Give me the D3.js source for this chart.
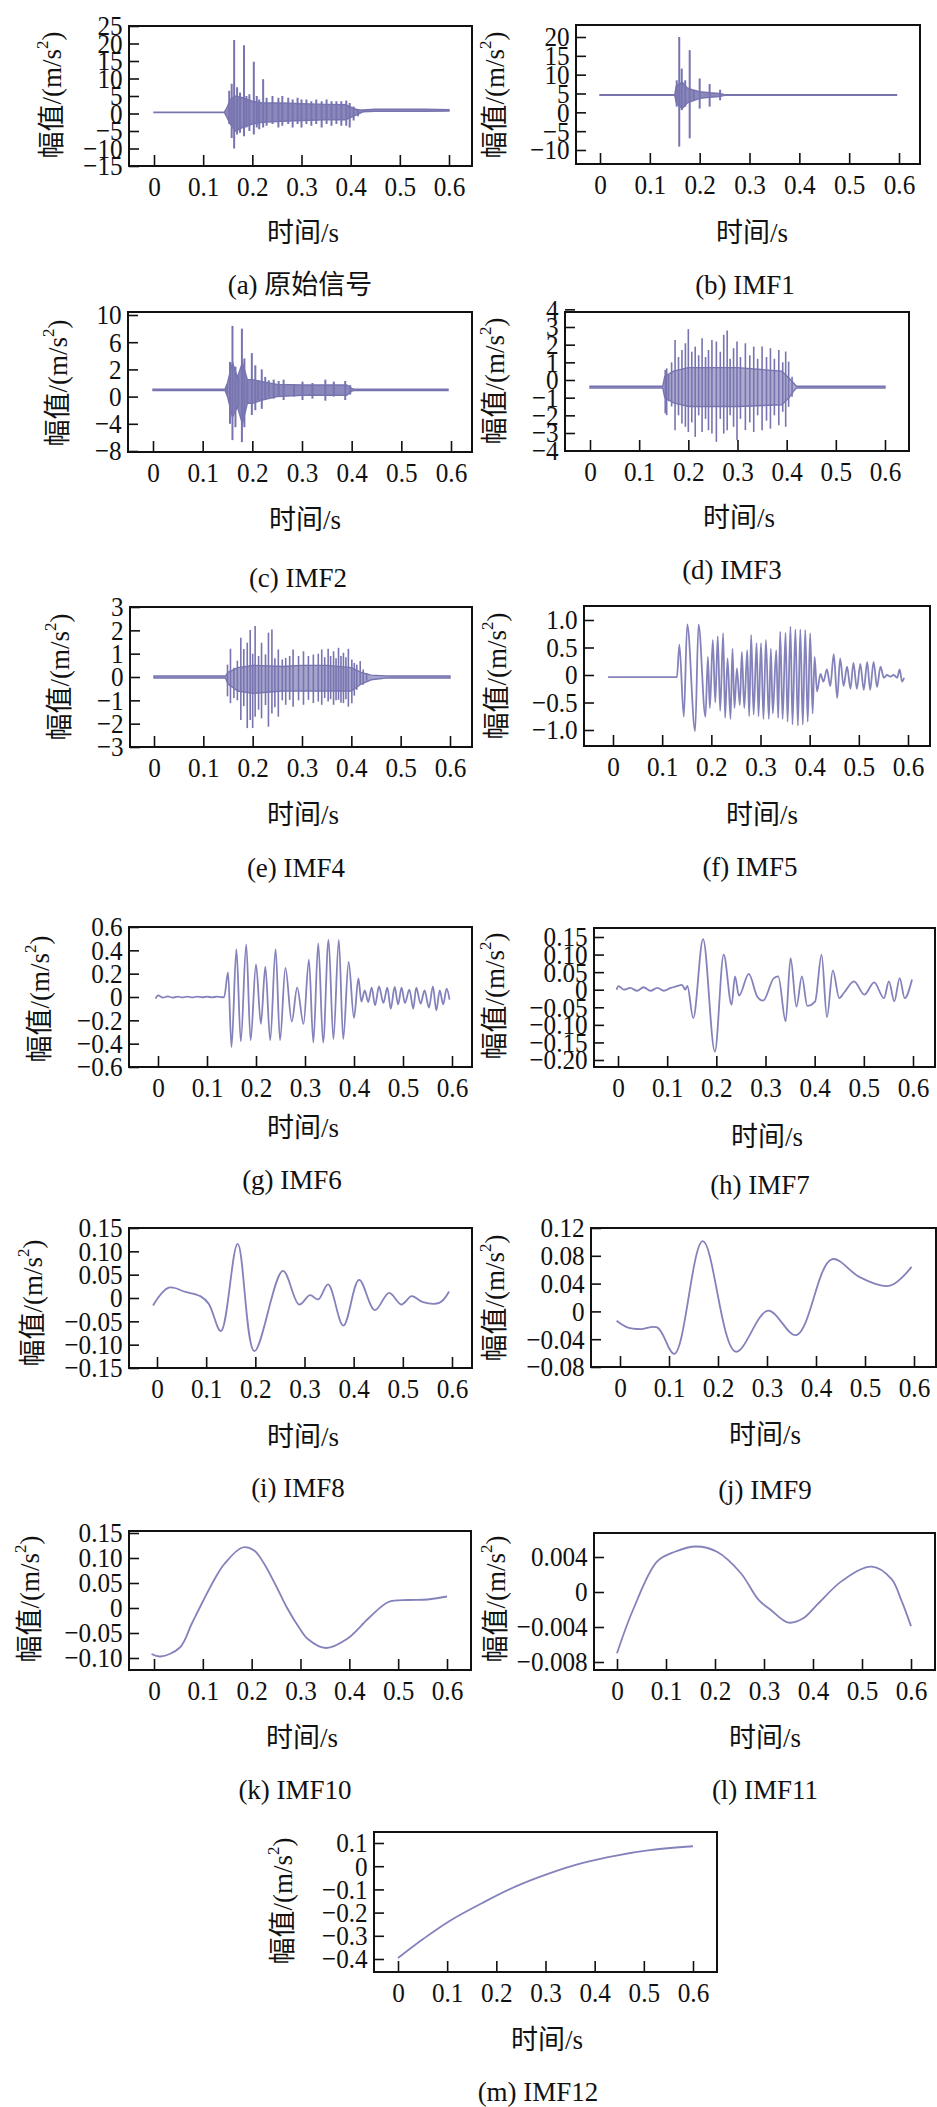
<!DOCTYPE html>
<html>
<head>
<meta charset="utf-8">
<script src="https://cdn.jsdelivr.net/npm/d3@7"></script>
<style>
  body { margin: 0; background: #fff; }
  text { font-family: "Liberation Serif", "Times New Roman", "Noto Sans CJK SC", serif; fill: #111; }
</style>
</head>
<body>
<svg id="chart" width="937" height="2107"></svg>
<script>
(function() {
  // ---- data ----
  var xTicks = [0, 0.1, 0.2, 0.3, 0.4, 0.5, 0.6];
  var xTickLabels = ["0", "0.1", "0.2", "0.3", "0.4", "0.5", "0.6"];

  var captions = ["(a) 原始信号", "(b) IMF1", "(c) IMF2", "(d) IMF3", "(e) IMF4", "(f) IMF5", "(g) IMF6",
                  "(h) IMF7", "(i) IMF8", "(j) IMF9", "(k) IMF10", "(l) IMF11", "(m) IMF12"];

  var aYTicks = [25, 20, 15, 10, 5, 0, -5, -10, -15];
  var bYTicks = [20, 15, 10, 5, 0, -5, -10];
  var cYTicks = [10, 6, 2, -2, -6, -10];
  var cYLabels = ["10", "6", "2", "0", "−4", "−8"];
  var dYTicks = [4, 3, 2, 1, 0, -1, -2, -3, -4];
  var eYTicks = [3, 2, 1, 0, -1, -2, -3];
  var fYTicks = [1.0, 0.5, 0, -0.5, -1.0];
  var fYLabels = ["1.0", "0.5", "0", "−0.5", "−1.0"];
  var gYTicks = [0.6, 0.4, 0.2, 0, -0.2, -0.4, -0.6];
  var hYTicks = [0.15, 0.10, 0.05, 0, -0.05, -0.10, -0.15, -0.20];
  var iYTicks = [0.15, 0.10, 0.05, 0, -0.05, -0.10, -0.15];
  var jYTicks = [0.12, 0.08, 0.04, 0, -0.04, -0.08];
  var kYTicks = [0.15, 0.10, 0.05, 0, -0.05, -0.10];
  var lYTicks = [0.004, 0, -0.004, -0.008];
  var mYTicks = [0.1, 0, -0.1, -0.2, -0.3, -0.4];

  // dense signals: core band [t, upper, lower] and single spikes [t, peak, trough]
  var aCore = [[0,0.4,0.3],[0.143,0.4,0.3],[0.148,1.5,-1],[0.155,4,-3],[0.165,5,-5],[0.18,4.5,-4],
    [0.2,3.5,-3],[0.22,3,-2.5],[0.26,3,-2.2],[0.3,2.8,-2],[0.35,2.6,-1.8],[0.39,2.5,-1.8],
    [0.405,1.5,-0.8],[0.415,1,-0.2],[0.425,1,0.5],[0.45,1.2,0.6],[0.5,1.2,0.6],[0.55,1.2,0.6],[0.6,1.1,0.7]];
  var aSpikes = [[0.153,6.5,-3],[0.158,8.5,-7],[0.163,21,-10],[0.169,7.5,-6],[0.175,6,-5.5],
    [0.183,19.5,-6.5],[0.188,5,-4],[0.194,5.5,-5],[0.203,14.8,-6],[0.209,5,-4],[0.214,4,-4.5],
    [0.222,9.8,-4],[0.229,4.5,-3.5],[0.241,5,-3],[0.253,4.5,-4],[0.261,5,-3.5],[0.273,4.5,-3],
    [0.282,4,-4],[0.292,4.5,-3],[0.300,4,-4],[0.310,4,-3],[0.320,3.5,-3.5],[0.330,4,-3],
    [0.341,3.5,-4],[0.351,4,-3],[0.361,3.5,-3.5],[0.371,3.5,-3],[0.381,3.5,-3.5],[0.391,3.7,-3.5],
    [0.398,3,-4],[0.406,2,-2],[0.415,1.3,-0.8]];

  var bCore = [[0,4.7,4.5],[0.15,4.7,4.5],[0.153,7,2.5],[0.165,8,1],[0.175,6.5,2.5],[0.185,6,3],
    [0.2,5.5,3.7],[0.22,5.2,4],[0.24,5,4.2],[0.25,4.7,4.5],[0.595,4.7,4.5]];
  var bSpikes = [[0.154,8.5,1.5],[0.159,20,-9.1],[0.164,11.6,0.6],[0.171,8.5,1.5],[0.180,16.5,-6.9],
    [0.188,5.9,3.2],[0.200,9,1],[0.220,7.5,1.5],[0.241,6,3.2]];

  var cCore = [[0,-0.9,-1.1],[0.145,-0.9,-1.1],[0.15,0,-2],[0.16,3,-5],[0.17,0.8,-3.5],[0.18,3,-6],
    [0.19,0.5,-3],[0.2,0.5,-3],[0.22,0.2,-2.5],[0.25,-0.2,-2],[0.3,-0.3,-1.8],[0.35,-0.3,-1.8],
    [0.39,-0.3,-1.8],[0.4,-0.8,-1.2],[0.405,-0.9,-1.1],[0.594,-0.9,-1.1]];
  var cSpikes = [[0.149,-0.3,-1.8],[0.155,3.1,-6],[0.160,8.4,-8.4],[0.166,2.4,-6.5],[0.172,0.9,-3.5],
    [0.179,8,-8.7],[0.184,3.6,-6.5],[0.190,0.4,-3],[0.199,4.4,-4.7],[0.206,2.6,-4],[0.212,0.4,-2.5],
    [0.219,2,-3.8],[0.226,0.9,-2.5],[0.233,0.4,-2],[0.243,0.5,-2.3],[0.253,0.3,-2],[0.263,0.5,-2.5],
    [0.284,-0.2,-2],[0.301,0.2,-2.5],[0.321,0,-2.3],[0.347,0.5,-2.6],[0.364,0.2,-2],[0.387,0.3,-2.5],
    [0.397,-0.3,-1.7]];

  var dCore = [[0,-0.35,-0.45],[0.148,-0.35,-0.45],[0.152,0.2,-1.0],[0.17,0.5,-1.3],[0.2,0.7,-1.5],
    [0.3,0.7,-1.5],[0.39,0.5,-1.4],[0.405,0.1,-1.0],[0.415,-0.2,-0.6],
    [0.42,-0.35,-0.45],[0.6,-0.35,-0.45]];
  var dSpikes = [[0.153,0.57,-1.89],[0.156,0.66,-1.99],[0.160,0.3,-1.2],[0.166,1.0,-1.5],[0.173,2.27,-2.84],
    [0.180,1.3,-2.0],[0.187,1.70,-2.46],[0.194,2.08,-2.65],[0.200,2.88,-2.94],[0.207,1.6,-2.4],
    [0.214,1.89,-3.22],[0.221,1.4,-2.0],[0.228,2.37,-2.94],[0.235,1.3,-2.2],[0.241,1.70,-2.84],
    [0.248,2.27,-3.03],[0.257,2.18,-3.5],[0.265,1.6,-2.2],[0.272,2.56,-3.03],[0.279,2.80,-2.84],
    [0.285,1.2,-2.0],[0.292,1.80,-2.65],[0.299,2.18,-3.41],[0.306,1.3,-2.2],[0.316,2.08,-2.84],
    [0.325,1.4,-2.4],[0.333,1.89,-2.94],[0.341,1.2,-2.0],[0.350,1.89,-2.84],[0.359,1.3,-2.3],
    [0.367,1.80,-2.75],[0.375,1.2,-2.0],[0.384,1.70,-2.56],[0.392,1.0,-1.8],[0.398,1.61,-2.65],
    [0.404,1.04,-1.52],[0.411,0.19,-0.95]];

  var eCore = [[0,0.04,-0.04],[0.145,0.04,-0.04],[0.15,0.2,-0.3],[0.17,0.4,-0.6],[0.2,0.5,-0.7],
    [0.26,0.45,-0.6],[0.3,0.5,-0.6],[0.35,0.5,-0.6],[0.4,0.4,-0.6],[0.42,0.2,-0.3],[0.44,0.08,-0.12],
    [0.47,0.05,-0.05],[0.48,0.04,-0.04],[0.6,0.04,-0.04]];
  var eSpikes = [[0.149,0.53,-0.83],[0.155,1.21,-1.12],[0.162,0.4,-0.9],[0.169,0.7,-1.0],[0.176,1.68,-1.84],
    [0.182,1.2,-1.25],[0.189,1.47,-2.19],[0.195,2.01,-1.84],[0.200,1.0,-2.19],[0.205,2.19,-1.70],
    [0.212,0.9,-1.4],[0.218,1.47,-1.77],[0.226,0.97,-1.2],[0.232,1.90,-2.13],[0.239,2.04,-1.56],
    [0.245,0.8,-1.3],[0.252,1.18,-1.70],[0.260,0.75,-1.0],[0.267,0.82,-1.19],[0.275,0.9,-0.98],
    [0.282,1.18,-1.27],[0.293,0.9,-1.0],[0.303,1.10,-1.19],[0.313,0.9,-0.98],[0.323,0.96,-1.12],
    [0.333,1.0,-1.05],[0.340,1.18,-1.19],[0.346,0.85,-0.9],[0.353,1.21,-1.05],[0.358,0.9,-0.95],
    [0.364,1.10,-1.19],[0.369,0.8,-1.0],[0.374,1.25,-0.98],[0.379,0.9,-1.1],[0.384,1.04,-1.12],
    [0.389,0.85,-0.95],[0.394,1.21,-1.27],[0.401,0.75,-1.12],[0.406,0.6,-0.8],[0.411,0.53,-0.55],
    [0.418,0.68,-0.33],[0.424,0.32,-0.33],[0.431,0.17,-0.15]];

  // oscillating / smooth components: [t, value]
  var fSeries = [[-0.01,-0.04],[0.13,-0.04],[0.135,0.55],[0.144,-0.76],[0.151,0.92],[0.167,-1.02],
    [0.174,0.92],[0.188,-0.76],[0.193,0.33],[0.197,-0.6],[0.203,0.64],[0.208,-0.5],[0.213,0.7],
    [0.218,-0.65],[0.224,0.76],[0.228,-0.78],[0.233,0.3],[0.239,-0.8],[0.243,0.48],[0.247,-0.6],
    [0.252,0.12],[0.258,-0.55],[0.262,0.42],[0.267,-0.6],[0.273,0.45],[0.277,-0.75],[0.281,0.73],
    [0.286,-0.72],[0.292,0.58],[0.296,-0.75],[0.301,0.58],[0.306,-0.8],[0.311,0.64],[0.317,-0.8],
    [0.321,0.48],[0.325,-0.7],[0.332,0.45],[0.336,-0.78],[0.340,0.79],[0.345,-0.8],[0.351,0.77],
    [0.355,-0.85],[0.361,0.88],[0.365,-0.9],[0.371,0.83],[0.376,-0.92],[0.381,0.83],[0.386,-0.9],
    [0.391,0.82],[0.396,-0.85],[0.401,0.76],[0.406,-0.7],[0.410,0.33],[0.415,-0.3],[0.422,0.02],
    [0.428,-0.12],[0.435,0.1],[0.442,-0.2],[0.449,0.38],[0.456,-0.42],[0.462,0.3],[0.469,-0.2],
    [0.476,0.15],[0.483,-0.25],[0.489,0.22],[0.496,-0.25],[0.503,0.2],[0.510,-0.27],[0.517,0.24],
    [0.523,-0.27],[0.530,0.24],[0.537,-0.22],[0.544,0.15],[0.551,-0.05],[0.557,0.0],[0.564,-0.03],
    [0.571,0.0],[0.578,-0.05],[0.583,0.1],[0.588,-0.12],[0.592,-0.05]];

  var gSeries = [[-0.005,-0.014],[0.0,0.014],[0.01,-0.005],[0.02,0.005],[0.03,-0.005],[0.04,0.004],
    [0.05,-0.004],[0.06,0.004],[0.07,-0.004],[0.08,0.004],[0.09,-0.003],[0.1,0.003],[0.11,-0.003],
    [0.12,0.003],[0.13,-0.002],[0.135,0.0],[0.143,0.21],[0.150,-0.43],[0.160,0.41],[0.169,-0.38],
    [0.180,0.45],[0.189,-0.37],[0.200,0.28],[0.210,-0.23],[0.219,0.26],[0.229,-0.37],[0.240,0.41],
    [0.249,-0.37],[0.260,0.25],[0.273,-0.21],[0.284,0.08],[0.297,-0.23],[0.308,0.32],[0.317,-0.39],
    [0.327,0.46],[0.337,-0.39],[0.348,0.49],[0.358,-0.36],[0.369,0.49],[0.378,-0.36],[0.389,0.3],
    [0.400,-0.18],[0.409,0.16],[0.415,-0.04],[0.422,0.057],[0.429,-0.043],[0.436,0.08],[0.443,-0.071],
    [0.451,0.091],[0.460,-0.051],[0.468,0.08],[0.475,-0.1],[0.483,0.086],[0.490,-0.063],[0.497,0.08],
    [0.504,-0.051],[0.513,0.063],[0.521,-0.1],[0.527,0.08],[0.536,-0.057],[0.544,0.057],[0.553,-0.091],
    [0.561,0.091],[0.568,-0.114],[0.575,0.057],[0.582,-0.063],[0.589,0.071],[0.595,-0.023]];

  var hSeries = [[-0.003,0.0],[0.001,0.01],[0.012,0.0],[0.025,0.005],[0.039,-0.003],[0.052,0.007],
    [0.066,-0.003],[0.080,0.005],[0.093,-0.003],[0.107,0.005],[0.120,0.01],[0.130,0.014],[0.137,0.0],
    [0.141,0.011],[0.153,-0.081],[0.173,0.144],[0.197,-0.176],[0.215,0.10],[0.231,-0.043],[0.238,0.038],
    [0.246,-0.017],[0.266,0.045],[0.283,-0.019],[0.295,-0.031],[0.317,0.033],[0.326,0.038],[0.341,-0.09],
    [0.351,0.09],[0.363,-0.048],[0.374,0.038],[0.385,-0.046],[0.401,-0.033],[0.414,0.10],[0.425,-0.078],
    [0.437,0.055],[0.450,-0.024],[0.460,-0.008],[0.480,0.024],[0.501,-0.014],[0.521,0.021],[0.541,-0.024],
    [0.551,0.024],[0.562,-0.033],[0.573,0.033],[0.583,-0.024],[0.598,0.029]];

  var iSeries = [[-0.008,-0.016],[0.024,0.022],[0.058,0.013],[0.088,0.004],[0.105,-0.012],[0.130,-0.071],
    [0.164,0.116],[0.198,-0.114],[0.256,0.058],[0.289,-0.014],[0.311,0.006],[0.328,-0.003],[0.348,0.029],
    [0.379,-0.059],[0.411,0.039],[0.443,-0.026],[0.472,0.011],[0.497,-0.014],[0.518,0.004],[0.541,-0.009],
    [0.575,-0.01],[0.594,0.014]];

  var jSeries = [[-0.007,-0.0135],[0.015,-0.023],[0.042,-0.0255],[0.076,-0.023],[0.111,-0.061],
    [0.169,0.101],[0.236,-0.058],[0.302,0.001],[0.360,-0.034],[0.432,0.075],[0.490,0.049],[0.551,0.037],
    [0.595,0.064]];

  var kSeries = [[-0.005,-0.092],[0.013,-0.097],[0.053,-0.079],[0.077,-0.032],[0.101,0.015],[0.126,0.061],
    [0.144,0.088],[0.181,0.121],[0.205,0.115],[0.224,0.091],[0.248,0.048],[0.272,0.001],[0.297,-0.039],
    [0.315,-0.062],[0.352,-0.080],[0.395,-0.062],[0.440,-0.020],[0.480,0.012],[0.520,0.016],
    [0.560,0.017],[0.600,0.023]];

  var lSeries = [[0.0,-0.0070],[0.033,-0.0020],[0.082,0.0035],[0.118,0.0046],[0.161,0.0052],[0.204,0.0046],
    [0.252,0.0022],[0.289,-0.0009],[0.313,-0.0020],[0.350,-0.0035],[0.380,-0.0030],[0.411,-0.0013],
    [0.460,0.0013],[0.520,0.0029],[0.560,0.0015],[0.580,-0.0009],[0.600,-0.0039]];

  var mSeries = [[0.0,-0.396],[0.051,-0.314],[0.105,-0.236],[0.173,-0.157],[0.241,-0.086],[0.308,-0.031],
    [0.376,0.014],[0.444,0.046],[0.512,0.069],[0.600,0.086]];

  // ---- layout (pixel positions of each panel) ----
  function fmtNum(d) { return d === 0 ? "0" : (d < 0 ? "−" : "") + Math.abs(d); }
  function fmt2(d) { return d === 0 ? "0" : (d < 0 ? "−" : "") + Math.abs(d).toFixed(2); }
  function fmt1(d) { return d === 0 ? "0" : (d < 0 ? "−" : "") + Math.abs(d).toFixed(1); }
  function fmt3(d) { return d === 0 ? "0" : (d < 0 ? "−" : "") + Math.abs(d).toFixed(3); }

  var smooth = d3.curveCatmullRom.alpha(0.5),
    wavy = d3.curveMonotoneX;

  var panels = [
    {box:[129,26,472,166], xPx:[154,449], yMap:[[25,26],[-15,166]], yt:aYTicks, yl:aYTicks.map(fmtNum),
     yTitle:[52,95], xTitle:[303,233], cap:[300,285], core:aCore, spikes:aSpikes, sw:2, op:0.85},
    {box:[576,25,920,164], xPx:[600,899], yMap:[[20,37],[-10,150]], yt:bYTicks, yl:bYTicks.map(fmtNum),
     yTitle:[495,95], xTitle:[752,233], cap:[745,285], core:bCore, spikes:bSpikes, sw:2, op:0.85},
    {box:[128,312,472,452], xPx:[153,451], yMap:[[10,315],[-10,451]], yt:cYTicks, yl:cYLabels,
     yTitle:[58,383], xTitle:[305,520], cap:[298,578], core:cCore, spikes:cSpikes, sw:2, op:0.85},
    {box:[565,312,909,451], xPx:[590,885], yMap:[[3,327],[-3,433]], yt:dYTicks, yl:dYTicks.map(fmtNum),
     yTitle:[495,381], xTitle:[739,518], cap:[732,570], core:dCore, spikes:dSpikes, sw:1.6, op:0.6},
    {box:[130,607,472,747], xPx:[154,450], yMap:[[3,607],[-3,747]], yt:eYTicks, yl:eYTicks.map(fmtNum),
     yTitle:[60,677], xTitle:[303,815], cap:[296,868], core:eCore, spikes:eSpikes, sw:1.6, op:0.65},
    {box:[584,606,930,746], xPx:[613,908], yMap:[[1,620],[-1,730]], yt:fYTicks, yl:fYLabels,
     yTitle:[497,676], xTitle:[762,815], cap:[750,867], series:fSeries, curve:wavy},
    {box:[129,927,472,1067], xPx:[158,452], yMap:[[0.6,927],[-0.6,1067]], yt:gYTicks, yl:gYTicks.map(fmt1),
     yTitle:[40,999], xTitle:[303,1128], cap:[292,1180], series:gSeries, curve:wavy},
    {box:[594,928,935,1067], xPx:[618,913], yMap:[[0.15,937],[-0.2,1060]], yt:hYTicks, yl:hYTicks.map(fmt2),
     yTitle:[495,996], xTitle:[767,1137], cap:[760,1185], series:hSeries, curve:wavy},
    {box:[129,1228,472,1368], xPx:[157,452], yMap:[[0.15,1228],[-0.15,1368]], yt:iYTicks, yl:iYTicks.map(fmt2),
     yTitle:[33,1303], xTitle:[303,1437], cap:[298,1488], series:iSeries, curve:smooth},
    {box:[591,1228,936,1367], xPx:[620,914], yMap:[[0.12,1228],[-0.08,1367]], yt:jYTicks, yl:jYTicks.map(fmt2),
     yTitle:[495,1298], xTitle:[765,1435], cap:[765,1490], series:jSeries, curve:smooth},
    {box:[129,1531,471,1670], xPx:[154,447], yMap:[[0.1,1558],[-0.1,1658]], yt:kYTicks, yl:kYTicks.map(fmt2),
     yTitle:[30,1599], xTitle:[302,1738], cap:[295,1790], series:kSeries, curve:smooth},
    {box:[594,1533,935,1670], xPx:[617,911], yMap:[[0.004,1557],[-0.008,1662]], yt:lYTicks, yl:lYTicks.map(fmt3),
     yTitle:[496,1599], xTitle:[765,1738], cap:[765,1790], series:lSeries, curve:smooth},
    {box:[374,1832,717,1972], xPx:[398,693], yMap:[[0.1,1843],[-0.4,1959]], yt:mYTicks, yl:mYTicks.map(fmt1),
     yTitle:[283,1901], xTitle:[547,2040], cap:[538,2092], series:mSeries, curve:smooth}
  ];

  var svg = d3.select("#chart");
  var denseColor = "#7774b0",
    smoothColor = "#8482bb",
    fontFam = '"Liberation Serif", "Times New Roman", "Noto Sans CJK SC", serif';

  panels.forEach(function(p, idx) {
    var L = p.box[0], T = p.box[1], R = p.box[2], B = p.box[3];
    var x = d3.scaleLinear().domain([0, 0.6]).range(p.xPx);
    var y = d3.scaleLinear().domain([p.yMap[0][0], p.yMap[1][0]]).range([p.yMap[0][1], p.yMap[1][1]]);
    var g = svg.append("g").attr("class", "panel");

    // signal
    if (p.core) {
      g.append("path")
          .datum(p.core)
          .attr("d", d3.area()
            .x(function(d) { return x(d[0]); })
            .y0(function(d) { return y(d[2]); })
            .y1(function(d) { return y(d[1]); }))
          .attr("fill", denseColor)
          .attr("fill-opacity", p.op)
          .attr("stroke", denseColor)
          .attr("stroke-width", 1.4);
      g.selectAll("line.spike")
        .data(p.spikes)
        .enter().append("line")
          .attr("class", "spike")
          .attr("x1", function(d) { return x(d[0]); })
          .attr("x2", function(d) { return x(d[0]); })
          .attr("y1", function(d) { return y(d[1]); })
          .attr("y2", function(d) { return y(d[2]); })
          .attr("stroke", denseColor)
          .attr("stroke-width", p.sw);
    } else {
      g.append("path")
          .datum(p.series)
          .attr("d", d3.line()
            .x(function(d) { return x(d[0]); })
            .y(function(d) { return y(d[1]); })
            .curve(p.curve))
          .attr("fill", "none")
          .attr("stroke", smoothColor)
          .attr("stroke-width", 1.8);
    }

    // axes with inward ticks
    var gx = g.append("g")
        .attr("transform", "translate(0," + B + ")")
        .call(d3.axisBottom(x)
          .tickValues(xTicks)
          .tickFormat(function(d, i) { return xTickLabels[i]; })
          .tickSize(-11)
          .tickPadding(10));
    gx.select(".domain").remove();

    var gy = g.append("g")
        .attr("transform", "translate(" + L + ",0)")
        .call(d3.axisLeft(y)
          .tickValues(p.yt)
          .tickFormat(function(d, i) { return p.yl[i]; })
          .tickSize(-10)
          .tickPadding(7));
    gy.select(".domain").remove();

    // scanned figure uses tall, narrow numerals
    [gx, gy].forEach(function(a) {
      a.attr("font-family", fontFam).attr("font-size", 28);
      a.selectAll("line").attr("stroke", "#111").attr("stroke-width", 1.6);
      a.selectAll("text").attr("fill", "#111").attr("transform", "scale(0.9,1)");
    });

    // frame
    g.append("rect")
        .attr("x", L).attr("y", T)
        .attr("width", R - L).attr("height", B - T)
        .attr("fill", "none")
        .attr("stroke", "#111")
        .attr("stroke-width", 2);

    // y title
    var yt = g.append("text")
        .attr("transform", "translate(" + p.yTitle[0] + "," + p.yTitle[1] + ") rotate(-90)")
        .attr("text-anchor", "middle")
        .attr("dominant-baseline", "central")
        .attr("font-size", 27);
    yt.append("tspan").text("幅值/(m/s");
    yt.append("tspan").attr("font-size", 17).attr("dy", -10).text("2");
    yt.append("tspan").attr("dy", 10).text(")");

    // x title
    g.append("text")
        .attr("x", p.xTitle[0]).attr("y", p.xTitle[1])
        .attr("text-anchor", "middle")
        .attr("dominant-baseline", "central")
        .attr("font-size", 27)
        .text("时间/s");

    // caption
    g.append("text")
        .attr("x", p.cap[0]).attr("y", p.cap[1])
        .attr("text-anchor", "middle")
        .attr("dominant-baseline", "central")
        .attr("font-size", 27)
        .text(captions[idx]);
  });
})();
</script>
</body>
</html>
